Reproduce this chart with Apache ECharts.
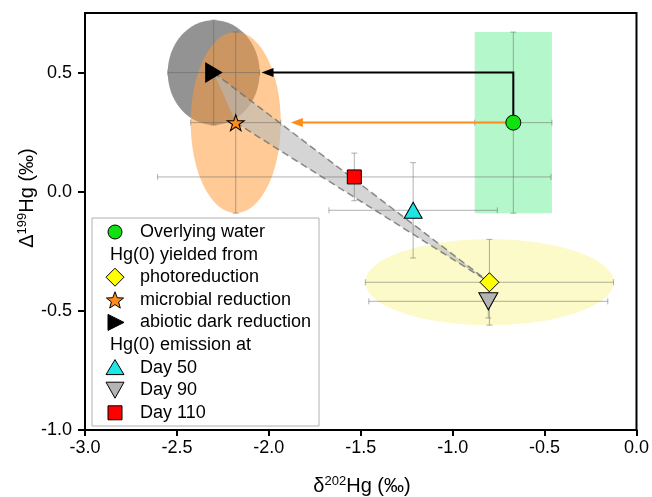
<!DOCTYPE html>
<html><head><meta charset="utf-8">
<script src="https://cdn.jsdelivr.net/npm/echarts@6/dist/echarts.min.js"></script>
<style>html,body{margin:0;padding:0;background:#fff}#c{width:652px;height:497px}</style>
</head><body><div id="c"></div>
<script>
// ---- axis ticks ----
const xTicks = [-3.0, -2.5, -2.0, -1.5, -1.0, -0.5, 0.0];
const yTicks = [-1.0, -0.5, 0.0, 0.5];

// ---- data points [δ202Hg, Δ199Hg] ----
const water = [[-0.67, 0.29]];
const photo = [[-0.80, -0.38]];
const microbial = [[-2.18, 0.29]];
const abiotic = [[-2.30, 0.50]];
const day50 = [[-1.215, -0.078]];
const day90 = [[-0.806, -0.46]];
const day110 = [[-1.535, 0.062]];

// ---- error bars ----
const errX  = [-0.67, -2.30, -2.18, -0.80, -1.215, -0.806, -1.535];
const errY  = [0.29, 0.50, 0.29, -0.38, -0.078, -0.46, 0.062];
const errDX = [0.21, 0.25, 0.245, 0.675, 0.458, 0.65, 1.07];
const errDY = [0.38, 0.22, 0.38, 0.18, 0.20, 0.07, 0.10];

// ---- uncertainty regions: cx, cy, rx, ry ----
const grayRegion   = [-2.30, 0.50, 0.25, 0.22];
const orangeRegion = [-2.18, 0.29, 0.245, 0.38];
const yellowRegion = [-0.80, -0.38, 0.675, 0.18];
// green box: xMin, xMax, yMin, yMax
const greenBox = [-0.88, -0.46, -0.09, 0.67];

// ---- mixing band ----
const bandX = [-2.30, -2.18, -0.80];
const bandY = [0.50, 0.29, -0.38];

// ---- arrows ----
const blackArrowX = [-0.67, -0.67, -2.04];
const blackArrowY = [0.29, 0.50, 0.50];
const orangeArrowX = [-0.67, -1.88];
const orangeArrowY = [0.29, 0.29];

const FONT = '"Liberation Sans", Arial, sans-serif';
const chart = echarts.init(document.getElementById('c'), null, {renderer: 'canvas'});

function ellipseSeries(region, color, z) {
  return {
    type: 'custom', z: z, silent: true, clip: true,
    data: [region],
    renderItem: function (params, api) {
      const c = api.coord([api.value(0), api.value(1)]);
      const s = api.size([api.value(2), api.value(3)]);
      return {type: 'ellipse', shape: {cx: c[0], cy: c[1], rx: s[0], ry: s[1]}, style: {fill: color}};
    }
  };
}

const starPath = 'path://M50,0 L61.2,34.5 L97.6,34.5 L68.2,55.9 L79.4,90.5 L50,69.1 L20.6,90.5 L31.8,55.9 L2.4,34.5 L38.8,34.5 Z';
const rightTri = 'path://M0,0 L10,5 L0,10 Z';

function arrowSeries(xs, ys, color) {
  return {
    type: 'custom', z: 4, silent: true,
    data: [[xs[0], ys[0]]],
    renderItem: function (params, api) {
      const pts = xs.map((x, i) => api.coord([x, ys[i]]));
      const n = pts.length;
      const tip = pts[n - 1], prev = pts[n - 2];
      const dx = tip[0] - prev[0], dy = tip[1] - prev[1];
      const len = Math.sqrt(dx * dx + dy * dy);
      const ux = dx / len, uy = dy / len;
      const hl = 12, hw = 4.5;
      const bx = tip[0] - ux * hl, by = tip[1] - uy * hl;
      const linePts = pts.slice(0, n - 1).concat([[bx + ux * 2, by + uy * 2]]);
      return {type: 'group', children: [
        {type: 'polyline', shape: {points: linePts}, style: {stroke: color, lineWidth: 2, fill: null}},
        {type: 'polygon', shape: {points: [tip, [bx - uy * hw, by + ux * hw], [bx + uy * hw, by - ux * hw]]}, style: {fill: color}}
      ]};
    }
  };
}

const errData = errX.map((x, i) => [x, errY[i], errDX[i], errDY[i]]);

const option = {
  backgroundColor: '#fff',
  animation: false,
  grid: {left: 85, right: 14, top: 13, bottom: 67, show: true, borderColor: '#000', borderWidth: 2, backgroundColor: 'transparent'},
  xAxis: {
    type: 'value', min: -3, max: 0, interval: 0.5,
    axisLine: {onZero: false, lineStyle: {color: '#000', width: 2}},
    axisTick: {show: true, inside: false, length: 6, lineStyle: {color: '#000', width: 2}, customValues: xTicks},
    axisLabel: {color: '#000', fontSize: 18, fontFamily: FONT, margin: 9, customValues: xTicks, formatter: v => v.toFixed(1)},
    splitLine: {show: false}
  },
  yAxis: {
    type: 'value', min: -1, max: 0.75, interval: 0.5,
    axisLine: {onZero: false, lineStyle: {color: '#000', width: 2}},
    axisTick: {show: true, inside: false, length: 7, lineStyle: {color: '#000', width: 2}, customValues: yTicks},
    axisLabel: {color: '#000', fontSize: 18, fontFamily: FONT, margin: 13, customValues: yTicks, formatter: v => v.toFixed(1)},
    splitLine: {show: false}
  },
  series: [
    {
      type: 'custom', z: 1, silent: true, data: [greenBox],
      renderItem: function (params, api) {
        const p0 = api.coord([api.value(0), api.value(3)]);
        const p1 = api.coord([api.value(1), api.value(2)]);
        return {type: 'rect', shape: {x: p0[0], y: p0[1], width: p1[0] - p0[0], height: p1[1] - p0[1]}, style: {fill: '#b4f7ca'}};
      }
    },
    ellipseSeries(yellowRegion, 'rgba(252,249,190,0.85)', 1),
    ellipseSeries(grayRegion, 'rgba(128,128,128,0.85)', 1),
    ellipseSeries(orangeRegion, 'rgba(255,153,51,0.52)', 1),
    {
      type: 'custom', z: 2, silent: true, data: [[bandX[0], bandY[0]]],
      renderItem: function (params, api) {
        const pts = bandX.map((x, i) => api.coord([x, bandY[i]]));
        return {type: 'group', children: [
          {type: 'polygon', shape: {points: pts}, style: {fill: 'rgba(185,185,185,0.6)'}},
          {type: 'line', shape: {x1: pts[0][0], y1: pts[0][1], x2: pts[2][0], y2: pts[2][1]}, style: {stroke: 'rgba(110,110,110,0.8)', lineWidth: 1.5, lineDash: [7, 4]}},
          {type: 'line', shape: {x1: pts[1][0], y1: pts[1][1], x2: pts[2][0], y2: pts[2][1]}, style: {stroke: 'rgba(110,110,110,0.8)', lineWidth: 1.5, lineDash: [7, 4]}}
        ]};
      }
    },
    {
      type: 'custom', z: 3, silent: true, data: errData,
      renderItem: function (params, api) {
        const x = api.value(0), y = api.value(1), dx = api.value(2), dy = api.value(3);
        const l = api.coord([x - dx, y]), r = api.coord([x + dx, y]);
        const t = api.coord([x, y + dy]), b = api.coord([x, y - dy]);
        const cap = 3;
        const st = {stroke: 'rgba(100,100,100,0.5)', lineWidth: 1};
        const L = (x1, y1, x2, y2) => ({type: 'line', shape: {x1, y1, x2, y2}, style: st});
        return {type: 'group', children: [
          L(l[0], l[1], r[0], r[1]), L(t[0], t[1], b[0], b[1]),
          L(l[0], l[1] - cap, l[0], l[1] + cap), L(r[0], r[1] - cap, r[0], r[1] + cap),
          L(t[0] - cap, t[1], t[0] + cap, t[1]), L(b[0] - cap, b[1], b[0] + cap, b[1])
        ]};
      }
    },
    arrowSeries(blackArrowX, blackArrowY, '#000'),
    arrowSeries(orangeArrowX, orangeArrowY, '#ff8c1a'),
    {name: 'Overlying water', type: 'scatter', z: 5, data: water, symbol: 'circle', symbolSize: 15, itemStyle: {color: '#11e011', borderColor: '#000', borderWidth: 1, opacity: 1}},
    {name: 'photoreduction', type: 'scatter', z: 5, data: photo, symbol: 'diamond', symbolSize: [19, 19], itemStyle: {color: '#ffff00', borderColor: '#000', borderWidth: 1, opacity: 1}},
    {name: 'microbial reduction', type: 'scatter', z: 5, data: microbial, symbol: starPath, symbolSize: [17, 16], itemStyle: {color: '#ff8c1a', borderColor: '#000', borderWidth: 1, opacity: 1}},
    {name: 'abiotic dark reduction', type: 'scatter', z: 5, data: abiotic, symbol: rightTri, symbolSize: [16, 19], itemStyle: {color: '#000', borderColor: '#000', borderWidth: 1, opacity: 1}},
    {name: 'Day 50', type: 'scatter', z: 5, data: day50, symbol: 'triangle', symbolSize: [18, 16], itemStyle: {color: '#1ee6e6', borderColor: '#000', borderWidth: 1, opacity: 1}},
    {name: 'Day 90', type: 'scatter', z: 5, data: day90, symbol: 'triangle', symbolRotate: 180, symbolSize: [19, 17], itemStyle: {color: '#b4b4b4', borderColor: '#000', borderWidth: 1, opacity: 1}},
    {name: 'Day 110', type: 'scatter', z: 5, data: day110, symbol: 'rect', symbolSize: [14, 14], itemStyle: {color: '#ff0000', borderColor: '#000', borderWidth: 1, opacity: 1}}
  ]
};

// ---- legend (drawn as graphic) ----
const lgTop = 232, lgStep = 22.6, symX = 115, txtX = 140, hdrX = 110;
const legendRows = [
  {kind: 'circle', color: '#11e011', text: 'Overlying water'},
  {kind: 'header', text: 'Hg(0) yielded from'},
  {kind: 'diamond', color: '#ffff00', text: 'photoreduction'},
  {kind: 'star', color: '#ff8c1a', text: 'microbial reduction'},
  {kind: 'right', color: '#000', text: 'abiotic dark reduction'},
  {kind: 'header', text: 'Hg(0) emission at'},
  {kind: 'up', color: '#1ee6e6', text: 'Day 50'},
  {kind: 'down', color: '#b4b4b4', text: 'Day 90'},
  {kind: 'square', color: '#ff0000', text: 'Day 110'}
];
const lg = [{type: 'rect', shape: {x: 92, y: 218, width: 227, height: 208}, style: {fill: '#fff', stroke: '#b0b0b0', lineWidth: 1}}];
legendRows.forEach((r, i) => {
  const cy = lgTop + i * lgStep;
  const sst = {fill: r.color, stroke: '#000', lineWidth: 1};
  if (r.kind === 'header') {
    lg.push({type: 'text', x: hdrX, y: cy, style: {text: r.text, font: '18px ' + FONT, fill: '#000', verticalAlign: 'middle', align: 'left'}});
    return;
  }
  if (r.kind === 'circle') lg.push({type: 'circle', shape: {cx: symX, cy: cy, r: 7}, style: sst});
  else if (r.kind === 'diamond') lg.push({type: 'polygon', shape: {points: [[symX, cy - 9], [symX + 9, cy], [symX, cy + 9], [symX - 9, cy]]}, style: sst});
  else if (r.kind === 'right') lg.push({type: 'polygon', shape: {points: [[symX - 7, cy - 8], [symX + 9, cy], [symX - 7, cy + 8]]}, style: sst});
  else if (r.kind === 'up') lg.push({type: 'polygon', shape: {points: [[symX, cy - 8], [symX + 9, cy + 7], [symX - 9, cy + 7]]}, style: sst});
  else if (r.kind === 'down') lg.push({type: 'polygon', shape: {points: [[symX - 9, cy - 8], [symX + 9, cy - 8], [symX, cy + 8]]}, style: sst});
  else if (r.kind === 'square') lg.push({type: 'rect', shape: {x: symX - 7, y: cy - 7, width: 14, height: 14}, style: sst});
  else if (r.kind === 'star') {
    const pts = [];
    for (let k = 0; k < 10; k++) {
      const a = -Math.PI / 2 + k * Math.PI / 5;
      const rad = k % 2 === 0 ? 9 : 3.8;
      pts.push([symX + rad * Math.cos(a), cy + 1 + rad * Math.sin(a)]);
    }
    lg.push({type: 'polygon', shape: {points: pts}, style: sst});
  }
  lg.push({type: 'text', x: txtX, y: cy, style: {text: r.text, font: '18px ' + FONT, fill: '#000', verticalAlign: 'middle', align: 'left'}});
});

// axis titles
lg.push({type: 'text', x: 362, y: 486, style: {
  text: 'δ{sup|202}Hg (‰)', fill: '#000', align: 'center', verticalAlign: 'middle',
  font: '20px ' + FONT,
  rich: {sup: {fontSize: 13, fontFamily: FONT, verticalAlign: 'top', lineHeight: 22, fill: '#000'}}
}});
lg.push({type: 'text', x: 27, y: 198, rotation: Math.PI / 2, style: {
  text: 'Δ{sup|199}Hg (‰)', fill: '#000', align: 'center', verticalAlign: 'middle',
  font: '20px ' + FONT,
  rich: {sup: {fontSize: 13, fontFamily: FONT, verticalAlign: 'top', lineHeight: 22, fill: '#000'}}
}});

option.graphic = {elements: lg.map(e => Object.assign({z: 100}, e))};
chart.setOption(option);
</script>
</body></html>
